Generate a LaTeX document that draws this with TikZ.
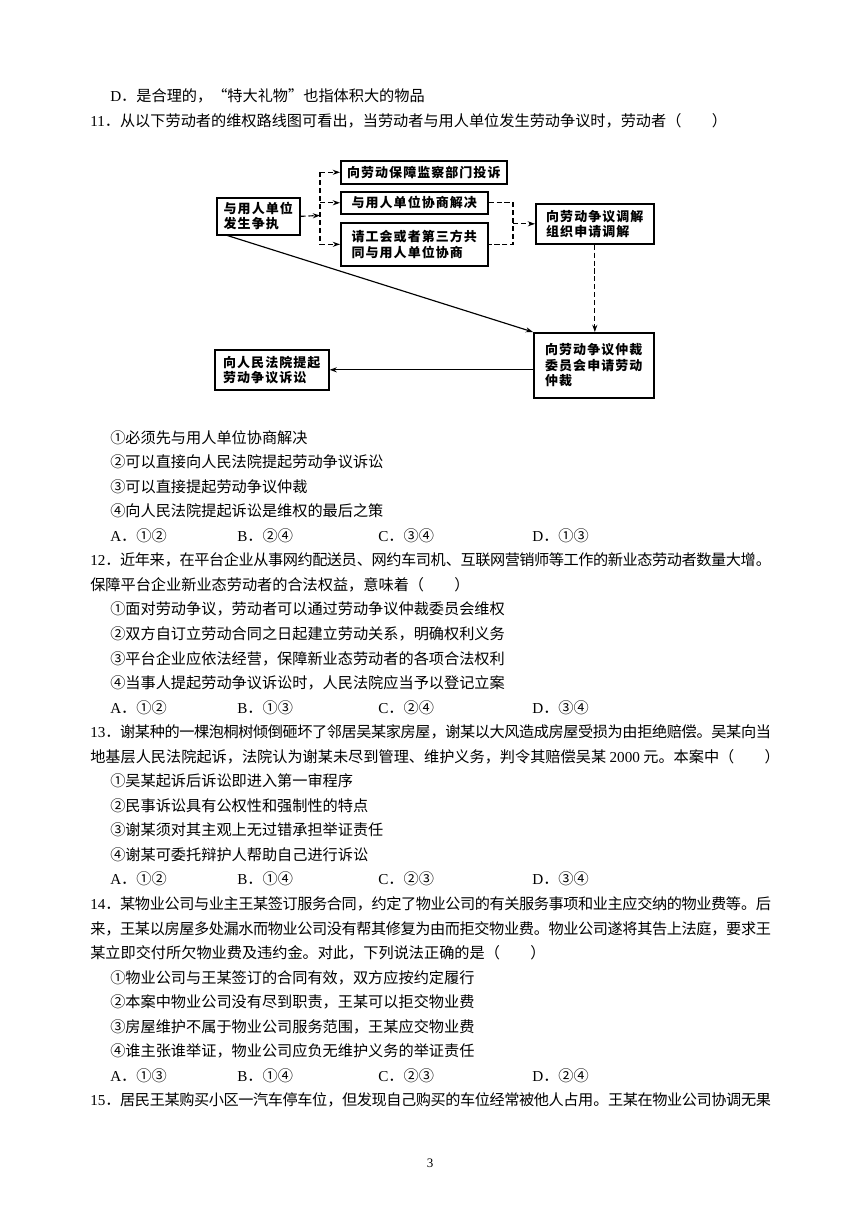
\documentclass[tikz,border=0pt]{standalone}
\usepackage{fontspec}
\usepackage{tikz}
\usetikzlibrary{arrows.meta}
\setmainfont{Liberation Serif}
\newfontfamily\cjk{Noto Sans CJK SC}
\newfontfamily\boxcjk[LetterSpace=8]{Noto Sans CJK SC}
\XeTeXlinebreaklocale "zh"
\XeTeXlinebreakskip=0pt plus 1pt minus 0.6pt

\newcommand\lat[1]{{\rmfamily #1}}
\newcommand\fullline[1]{\parbox[t]{471pt}{\parfillskip=0pt\relax\noindent #1}}

\tikzset{
  txt/.style = {anchor = base west, inner sep = 0pt,
                font = \cjk\fontsize{10.5}{12}\selectfont},
  box/.style = {draw, line width = 1.1pt, anchor = north west,
                inner sep = 0pt, align = left,
                font = \boxcjk\bfseries\fontsize{9}{10.6}\selectfont},
  dashline/.style = {line width = 0.8pt, dash pattern = on 3.5pt off 2pt},
  solidline/.style = {line width = 0.8pt},
  tip/.style = {-{Stealth[length = 5pt, width = 3.5pt]}}
}

\begin{document}
\begin{tikzpicture}[x = 0.692pt, y = -0.692pt]
\fill[white] (0, 0) rectangle (860, 1216);
\useasboundingbox (0, 0) rectangle (860, 1216);

% end of question 10
\node[txt] (q10d) at (110, 101) {\lat{D}．是合理的，“特大礼物”也指体积大的物品};

% question 11
\node[txt] (q11) at (90, 126)
  {\lat{11}．从以下劳动者的维权路线图可看出，当劳动者与用人单位发生劳动争议时，劳动者（　　）};

% route chart
\node[box, minimum width = 57.4pt, minimum height = 25.6pt]
  (dispute) at (216, 197) {与用人单位\\发生争执};
\node[box, minimum width = 114.9pt, minimum height = 15.9pt]
  (inspect) at (340, 160) {向劳动保障监察部门投诉};
\node[box, minimum width = 101.7pt, minimum height = 15.2pt]
  (negotiate) at (340, 191) {与用人单位协商解决};
\node[box, minimum width = 101.7pt, minimum height = 29.8pt]
  (union) at (340, 222) {请工会或者第三方共\\同与用人单位协商};
\node[box, minimum width = 81.7pt, minimum height = 27.7pt]
  (mediate) at (535, 203) {向劳动争议调解\\组织申请调解};
\node[box, minimum width = 83pt, minimum height = 45pt]
  (arbitrate) at (533, 332) {向劳动争议仲裁\\委员会申请劳动\\仲裁};
\node[box, minimum width = 78.9pt, minimum height = 27.7pt]
  (court) at (214, 349) {向人民法院提起\\劳动争议诉讼};

\coordinate (split) at (320, 215.5);
\coordinate (merge) at (513, 222);

\draw[dashline, tip] (dispute.east) -- (split);
\draw[dashline] (split |- inspect.west) -- (split |- union.west);
\foreach \b in {inspect, negotiate, union}
  \draw[dashline, tip] (split |- \b.west) -- (\b.west);
\draw[dashline] (negotiate.east) -- (negotiate.east -| merge)
  -- (union.east -| merge) -- (union.east);
\draw[dashline, tip] (merge |- mediate.west) -- (mediate.west);
\draw[dashline, tip] (mediate.south) -- (mediate.south |- arbitrate.north);
\draw[solidline, tip] ([xshift = 8pt]dispute.south west) -- (arbitrate.north west);
\draw[solidline, tip] (arbitrate.west |- court.east) -- (court.east);

\node[txt] (q11i) at (110, 443) {①必须先与用人单位协商解决};
\node[txt] (q11ii) at (110, 467.6) {②可以直接向人民法院提起劳动争议诉讼};
\node[txt] (q11iii) at (110, 492.1) {③可以直接提起劳动争议仲裁};
\node[txt] (q11iv) at (110, 516.7) {④向人民法院提起诉讼是维权的最后之策};
\node[txt] (q11a) at (110, 541.2) {\lat{A}．①②};
\node[txt] (q11b) at (237, 541.2) {\lat{B}．②④};
\node[txt] (q11c) at (378, 541.2) {\lat{C}．③④};
\node[txt] (q11d) at (532, 541.2) {\lat{D}．①③};

% question 12
\node[txt] (q12) at (90, 565.8)
  {\fullline{\lat{12}．近年来，在平台企业从事网约配送员、网约车司机、互联网营销师等工作的新业态劳动者数量大增。}};
\node[txt] (q12l2) at (90, 590.3) {保障平台企业新业态劳动者的合法权益，意味着（　　）};
\node[txt] (q12i) at (110, 614.9) {①面对劳动争议，劳动者可以通过劳动争议仲裁委员会维权};
\node[txt] (q12ii) at (110, 639.4) {②双方自订立劳动合同之日起建立劳动关系，明确权利义务};
\node[txt] (q12iii) at (110, 664) {③平台企业应依法经营，保障新业态劳动者的各项合法权利};
\node[txt] (q12iv) at (110, 688.5) {④当事人提起劳动争议诉讼时，人民法院应当予以登记立案};
\node[txt] (q12a) at (110, 713.1) {\lat{A}．①②};
\node[txt] (q12b) at (237, 713.1) {\lat{B}．①③};
\node[txt] (q12c) at (378, 713.1) {\lat{C}．②④};
\node[txt] (q12d) at (532, 713.1) {\lat{D}．③④};

% question 13
\node[txt] (q13) at (90, 737.6)
  {\fullline{\lat{13}．谢某种的一棵泡桐树倾倒砸坏了邻居吴某家房屋，谢某以大风造成房屋受损为由拒绝赔偿。吴某向当}};
\node[txt] (q13l2) at (90, 762.2)
  {地基层人民法院起诉，法院认为谢某未尽到管理、维护义务，判令其赔偿吴某 \lat{2000} 元。本案中（　　）};
\node[txt] (q13i) at (110, 786.7) {①吴某起诉后诉讼即进入第一审程序};
\node[txt] (q13ii) at (110, 811.3) {②民事诉讼具有公权性和强制性的特点};
\node[txt] (q13iii) at (110, 835.8) {③谢某须对其主观上无过错承担举证责任};
\node[txt] (q13iv) at (110, 860.4) {④谢某可委托辩护人帮助自己进行诉讼};
\node[txt] (q13a) at (110, 884.9) {\lat{A}．①②};
\node[txt] (q13b) at (237, 884.9) {\lat{B}．①④};
\node[txt] (q13c) at (378, 884.9) {\lat{C}．②③};
\node[txt] (q13d) at (532, 884.9) {\lat{D}．③④};

% question 14
\node[txt] (q14) at (90, 909.5)
  {\fullline{\lat{14}．某物业公司与业主王某签订服务合同，约定了物业公司的有关服务事项和业主应交纳的物业费等。后}};
\node[txt] (q14l2) at (90, 934)
  {\fullline{来，王某以房屋多处漏水而物业公司没有帮其修复为由而拒交物业费。物业公司遂将其告上法庭，要求王}};
\node[txt] (q14l3) at (90, 958.6) {某立即交付所欠物业费及违约金。对此，下列说法正确的是（　　）};
\node[txt] (q14i) at (110, 983.1) {①物业公司与王某签订的合同有效，双方应按约定履行};
\node[txt] (q14ii) at (110, 1007.7) {②本案中物业公司没有尽到职责，王某可以拒交物业费};
\node[txt] (q14iii) at (110, 1032.2) {③房屋维护不属于物业公司服务范围，王某应交物业费};
\node[txt] (q14iv) at (110, 1056.8) {④谁主张谁举证，物业公司应负无维护义务的举证责任};
\node[txt] (q14a) at (110, 1081.3) {\lat{A}．①③};
\node[txt] (q14b) at (237, 1081.3) {\lat{B}．①④};
\node[txt] (q14c) at (378, 1081.3) {\lat{C}．②③};
\node[txt] (q14d) at (532, 1081.3) {\lat{D}．②④};

% question 15
\node[txt] (q15) at (90, 1105.9)
  {\fullline{\lat{15}．居民王某购买小区一汽车停车位，但发现自己购买的车位经常被他人占用。王某在物业公司协调无果}};

% page number
\node[anchor = base, inner sep = 0pt, font = \fontsize{9}{10}\selectfont]
  (pageno) at (430, 1167) {3};
\end{tikzpicture}
\end{document}
